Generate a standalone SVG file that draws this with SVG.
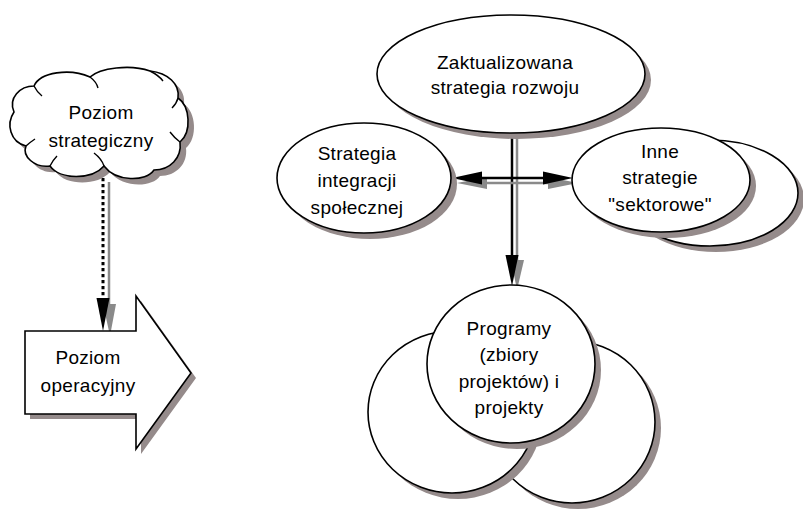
<svg xmlns="http://www.w3.org/2000/svg" width="803" height="510" viewBox="0 0 803 510">
<defs>
<style>
.shape{fill:#fff;stroke:#000;stroke-width:1.6}
.shadow{fill:#958b8b;stroke:none}
.txt{font-family:"Liberation Sans",Arial,sans-serif;font-size:19px;letter-spacing:0.3px;fill:#000;text-anchor:middle}
.conn{stroke:#000;stroke-width:2.5;fill:none}
.connsh{stroke:#8a8a8a;stroke-width:2.5;fill:none}
.inner{fill:none;stroke:#000;stroke-width:1.4}
</style>
<path id="cloudPath" d="M14,112 C8,98 20,86 34,86 C40,72 70,68 90,77 C100,68 130,64 150,71 C168,73 180,84 178,98 C190,106 192,132 180,142 C182,158 170,170 154,170 C146,182 116,182 104,166 C92,180 60,180 50,166 C34,168 22,156 26,146 C10,142 6,124 14,112 Z"/>
</defs>
<rect width="803" height="510" fill="#fff"/>

<g id="connectors">
  <line class="connsh" x1="109" y1="182" x2="109" y2="305" stroke-width="3"/>
  <polygon fill="#8a8a8a" points="103,304 116,304 110,336"/>
  <line x1="103" y1="178" x2="103" y2="300" stroke="#000" stroke-width="3" stroke-dasharray="3.3 2.7"/>
  <polygon fill="#000" points="96.5,298 109.5,298 103,331"/>
  <line class="connsh" x1="517" y1="138" x2="517" y2="262"/>
  <polygon fill="#8a8a8a" points="511,260 524,260 517,290"/>
  <line class="conn" x1="512" y1="133" x2="512" y2="258"/>
  <polygon fill="#000" points="505.5,255 518.5,255 512,286"/>
  <line class="connsh" x1="482" y1="183" x2="548" y2="183"/>
  <polygon fill="#8a8a8a" points="457,183 487,177 487,189"/>
  <polygon fill="#8a8a8a" points="578,183 548,177 548,189"/>
  <line class="conn" x1="478" y1="178" x2="547" y2="178"/>
  <polygon fill="#000" points="452,178 482,171.5 482,184.5"/>
  <polygon fill="#000" points="573,178 543,171.5 543,184.5"/>
</g>

<g id="node-poziom-strategiczny">
  <use href="#cloudPath" class="shadow" transform="translate(6,6)"/>
  <use href="#cloudPath" class="shape"/>
  <path class="inner" d="M34,86 C36,90 38,93 42,96"/>
  <path class="inner" d="M90,77 C94,80 97,84 98,88"/>
  <path class="inner" d="M150,71 C156,74 160,77 163,81"/>
  <path class="inner" d="M178,98 C177,102 175,105 172,108"/>
  <path class="inner" d="M180,142 C176,139 173,136 170,132"/>
  <path class="inner" d="M104,166 C102,160 98,156 94,153"/>
  <path class="inner" d="M50,166 C52,162 54,159 57,156"/>
  <path class="inner" d="M26,146 C29,143 32,141 35,139"/>
  <text class="txt" x="101" y="119">Poziom</text>
  <text class="txt" x="101" y="147">strategiczny</text>
</g>

<g id="node-poziom-operacyjny">
  <polygon class="shadow" points="30,336 141,336 141,301 196,378 141,454 141,419 30,419"/>
  <polygon class="shape" points="25,331 136,331 136,296 191,373 136,449 136,414 25,414"/>
  <text class="txt" x="88" y="364">Poziom</text>
  <text class="txt" x="88" y="392">operacyjny</text>
</g>

<g id="node-zaktualizowana">
  <ellipse class="shadow" cx="517" cy="80" rx="134" ry="59"/>
  <ellipse class="shape" cx="511" cy="74" rx="134" ry="59"/>
  <text class="txt" x="505" y="69">Zaktualizowana</text>
  <text class="txt" x="505" y="94">strategia rozwoju</text>
</g>

<g id="node-strategia-integracji">
  <ellipse class="shadow" cx="370" cy="184" rx="87" ry="55"/>
  <ellipse class="shape" cx="364" cy="178" rx="87" ry="55"/>
  <text class="txt" x="357" y="160">Strategia</text>
  <text class="txt" x="357" y="187">integracji</text>
  <text class="txt" x="357" y="214">społecznej</text>
</g>

<g id="node-inne-strategie">
  <ellipse class="shadow" cx="716" cy="199" rx="88" ry="53"/>
  <ellipse class="shape" cx="710" cy="193" rx="88" ry="53"/>
  <ellipse class="shadow" cx="667" cy="186" rx="89" ry="52"/>
  <ellipse class="shape" cx="661" cy="180" rx="89" ry="52"/>
  <text class="txt" x="660" y="158">Inne</text>
  <text class="txt" x="660" y="184">strategie</text>
  <text class="txt" x="660" y="211">"sektorowe"</text>
</g>

<g id="node-programy">
  <ellipse class="shadow" cx="578" cy="428" rx="83" ry="81"/>
  <ellipse class="shape" cx="572" cy="422" rx="83" ry="81"/>
  <ellipse class="shadow" cx="458" cy="418" rx="84" ry="81"/>
  <ellipse class="shape" cx="452" cy="412" rx="84" ry="81"/>
  <ellipse class="shadow" cx="517" cy="370" rx="84" ry="79"/>
  <ellipse class="shape" cx="511" cy="364" rx="84" ry="79"/>
  <text class="txt" x="509" y="335">Programy</text>
  <text class="txt" x="509" y="361">(zbiory</text>
  <text class="txt" x="509" y="388">projektów) i</text>
  <text class="txt" x="509" y="414">projekty</text>
</g>
</svg>
